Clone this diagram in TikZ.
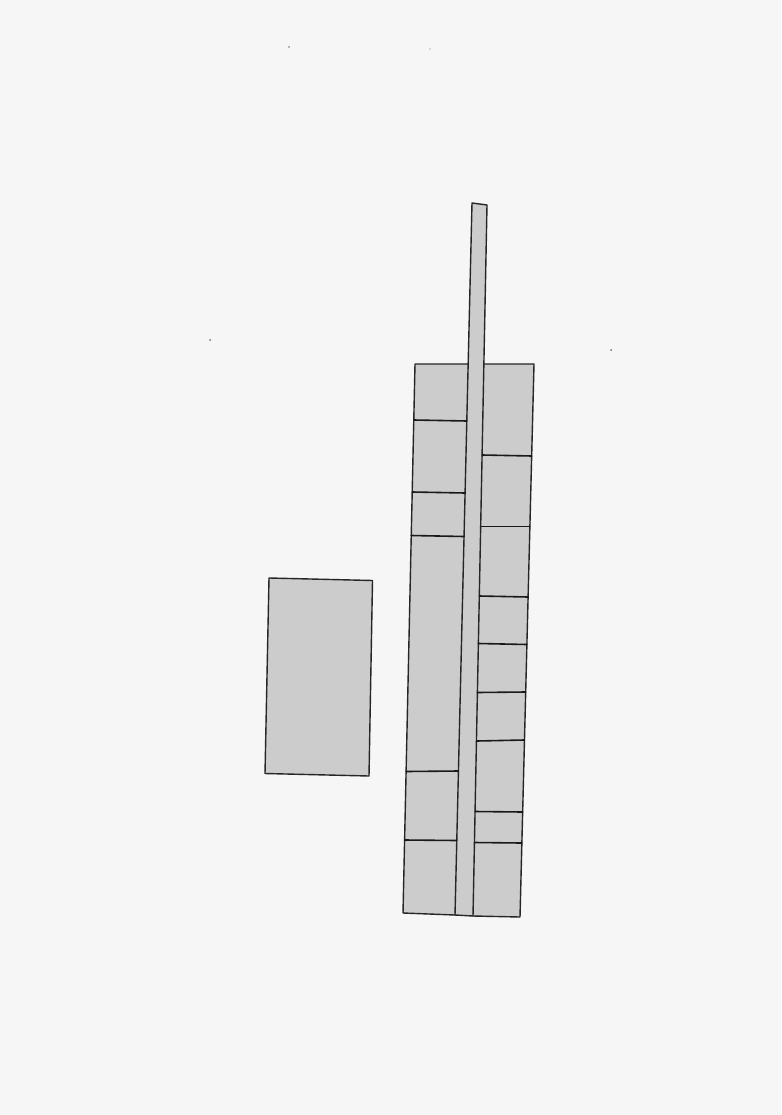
\documentclass[tikz,border=0pt]{standalone}
\usetikzlibrary{calc}
\definecolor{paper}{RGB}{246,246,246}
\definecolor{blockgray}{RGB}{204,204,204}
\tikzset{
  ink/.style={draw=black!85, line width=1.4pt, line join=round, line cap=round},
  part/.style={ink, fill=blockgray},
  divider/.style={ink, draw=black!90, line width=1.6pt},
  speck/.style={fill=black!55}
}
\begin{document}
\begin{tikzpicture}[x=1pt,y=-1pt]
\fill[paper] (0,0) rectangle (781,1115);
\useasboundingbox (0,0) rectangle (781,1115);
% specks
\fill[speck] (289,47) circle (0.8);
\fill[speck] (430,49) circle (0.6);
\fill[speck] (210,340) circle (1.0);
\fill[speck] (611,350) circle (1.0);
% corners
\coordinate (LTL) at (415,364);
\coordinate (LBL) at (403,913);
\coordinate (STL) at (472,203);
\coordinate (STR) at (487,205);
\coordinate (SBL) at (455,915);
\coordinate (SBR) at (473,916);
\coordinate (RTR) at (534,364);
\coordinate (RBR) at (520,917);
\coordinate (SL364) at (468.2,364);
\coordinate (SR364) at (483.8,364);
% fills
\fill[blockgray] (LTL) -- (SL364) -- (STL) -- (STR) -- (SR364) -- (RTR) -- (RBR) -- (SBR) -- (SBL) -- (LBL) -- cycle;
% left column
\draw[ink] (SL364) -- (LTL) -- (LBL) -- (SBL);
% spire
\draw[ink] (SBL) -- (STL) -- (STR) -- (SBR) -- cycle;
% right column
\draw[ink] (SR364) -- (RTR) -- (RBR) -- (SBR);
% left column dividers
\draw[divider] (413.8,420) -- (466.8,421);
\draw[divider] (412.2,492) -- (465.1,493);
\draw[divider] (411.2,535.5) -- (464.0,536.5);
\draw[divider] (406.1,771.5) -- (458.4,771);
\draw[divider] (404.6,840) -- (456.8,840.5);
% right column dividers
\draw[divider] (482.1,455) -- (531.7,456);
\draw[divider] (480.7,526.5) -- (529.9,526.5);
\draw[divider] (479.3,596) -- (528.1,597);
\draw[divider] (478.4,643.5) -- (526.9,644.5);
\draw[divider] (477.4,692.5) -- (525.7,692);
\draw[divider] (476.5,741) -- (524.5,740);
\draw[divider] (475.1,811.5) -- (522.7,812);
\draw[divider] (474.4,842.5) -- (521.9,843);
% separate block
\coordinate (BTL) at (269,578);
\coordinate (BTR) at (372.5,580.5);
\coordinate (BBR) at (369,776);
\coordinate (BBL) at (265,773.5);
\draw[part] (BTL) -- (BTR) -- (BBR) -- (BBL) -- cycle;
\end{tikzpicture}
\end{document}
